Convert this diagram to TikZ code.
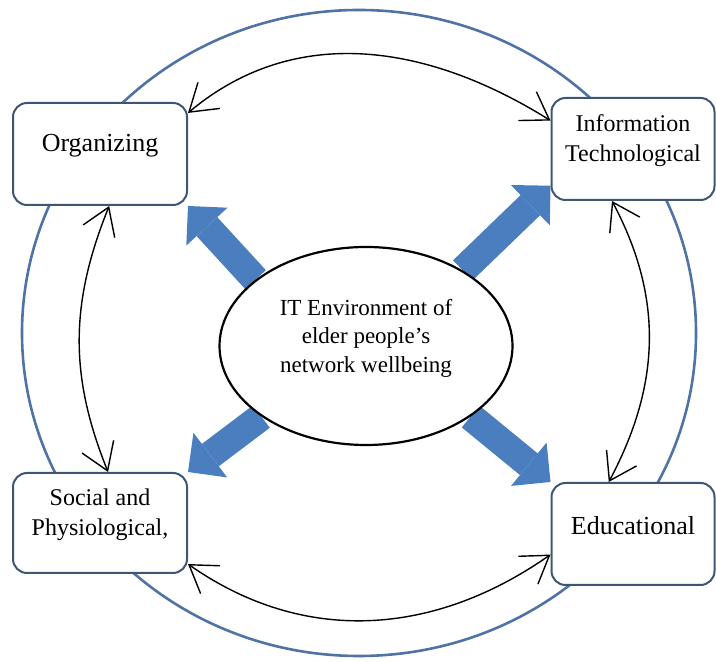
\documentclass[tikz,border=0pt]{standalone}
\usepackage{fontspec}
\setmainfont{Liberation Serif}
\usetikzlibrary{arrows.meta,shapes.geometric,backgrounds}
\definecolor{ringblue}{RGB}{80,115,165}
\definecolor{boxline}{RGB}{62,86,116}
\definecolor{bigblue}{RGB}{74,126,190}
\tikzset{
  box/.style={draw=boxline, line width=1pt, fill=white, rounded corners=7pt,
    minimum width=87pt, minimum height=51pt, inner sep=0pt},
  boxtext/.style={align=center, yshift=4pt},
  oneline/.style={font=\fontsize{13}{16}\selectfont},
  twoline/.style={font=\fontsize{12}{15}\selectfont},
  twoway/.style={line width=0.7pt,
    {Straight Barb[length=13pt,width=17pt]}-{Straight Barb[length=13pt,width=17pt]}},
  fat/.style={draw=bigblue, line width=14pt,
    -{Triangle[length=14pt,width=28pt,line width=0pt]}}
}

\begin{document}
\begin{tikzpicture}[x=0.5pt,y=0.5pt]
\useasboundingbox (0,0) rectangle (716,662);
\draw[ringblue, line width=1.3pt] (359,329) ellipse [x radius=168.5pt, y radius=161.5pt];

\node[box, label={[boxtext,oneline]center:Organizing}] (org) at (100,508) {};
\node[box, minimum width=81.5pt, label={[boxtext,twoline]center:Information\\Technological}] (info) at (633,513) {};
\node[box, minimum height=50pt, label={[boxtext,twoline]center:Social and\\Physiological,}] (social) at (100,139) {};
\node[box, minimum width=81.5pt, label={[boxtext,oneline]center:Educational}] (edu) at (633,128) {};
\node[draw, line width=1.1pt, fill=white, ellipse, minimum width=146.5pt, minimum height=99pt, inner sep=0pt,
  label={[boxtext,font=\fontsize{11.5}{14.25}\selectfont]center:IT Environment of\\elder people’s\\network wellbeing}] (env) at (366,316) {};

\begin{scope}[on background layer]
\draw[fat] (env.149) -- (org.south east);
\draw[fat] (env.38) -- (info.204);
\draw[fat] (env.214) -- (social.north east);
\draw[fat] (env.-34) -- (edu.north west);
\end{scope}

\draw[twoway] (org.25) to[out=40,in=148] (info.161);
\draw[twoway] (info.248) to[out=-62,in=62] (edu.115);
\draw[twoway] (social.-25) to[out=-35,in=-145] (edu.194);
\draw[twoway] (org.-80) to[out=248,in=112] (social.81);
\end{tikzpicture}
\end{document}
